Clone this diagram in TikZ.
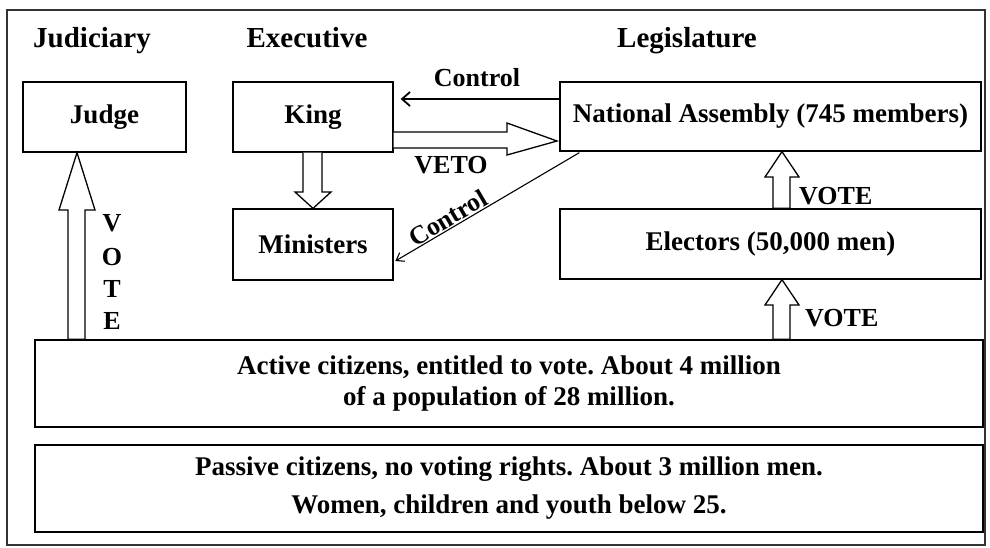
\documentclass[tikz,border=0pt]{standalone}
\usepackage{fontspec}
\setmainfont{Liberation Serif}
\usetikzlibrary{arrows.meta,calc}
\frenchspacing
\begin{document}
\begin{tikzpicture}[x=1pt,y=-1pt,
  box/.style={draw, line width=1.3pt, inner sep=0pt, align=center,
    font=\fontsize{27}{31}\selectfont\bfseries\frenchspacing},
  title/.style={font=\fontsize{29}{32}\selectfont\bfseries, inner sep=0pt, anchor=base},
  lab/.style={font=\fontsize{26}{30}\selectfont\bfseries, inner sep=0pt},
  hollow/.style={draw, line width=1.3pt, fill=white, line join=miter},
]
\useasboundingbox (0,0) rectangle (990,547);
\draw[line width=1.5pt, black!80] (7,10) rectangle (985,545);

% titles
\node[title] (tj) at (92,47) {Judiciary};
\node[title] (te) at (307,47) {Executive};
\node[title] (tl) at (687,47) {Legislature};

% boxes
\node[box, minimum width=163pt, minimum height=70pt] (judge) at (104.5,117) {Judge};
\node[box, minimum width=160pt, minimum height=70pt] (king) at (313,117) {King};
\node[box, minimum width=160pt, minimum height=71pt] (ministers) at (313,244.5) {Ministers};
\node[box, minimum width=421pt, minimum height=69pt] (na) at (770.5,116.5) {National Assembly (745 members)};
\node[box, minimum width=421pt, minimum height=70pt] (electors) at (770.5,244) {Electors (50,000 men)};
\node[box, minimum width=948pt, minimum height=87pt] (active) at (509,383.5)
  {Active citizens, entitled to vote. About 4 million\\of a population of 28 million.};
\node[box, minimum width=948pt, minimum height=87pt] (passive) at (509,488.5)
  {Passive citizens, no voting rights. About 3 million men.\\[7pt]Women, children and youth below 25.};

% Judge vote arrow
\draw[hollow] (77,0 |- judge.south) -- (95,210) -- (85,210) -- (85,0 |- active.north)
  -- (68,0 |- active.north) -- (68,210) -- (59,210) -- cycle;
\node[lab] (v1) at (112,223) {V};
\node[lab] (v2) at (112,257) {O};
\node[lab] (v3) at (112,289) {T};
\node[lab] (v4) at (112,321) {E};

% King -> Ministers
\draw[hollow] (303,0 |- king.south) -- (303,192) -- (295,192) -- (ministers.north)
  -- (331,192) -- (322,192) -- (322,0 |- king.south);

% VETO arrow
\draw[hollow] (king.east |- 0,132) -- (507,132) -- (507,123) -- (557,141)
  -- (507,155) -- (507,148) -- (king.east |- 0,148);
\node[lab] (veto) at (451,165) {VETO};

% Control arrow (NA -> King)
\draw[line width=1.8pt, -{Straight Barb[length=8pt,width=14pt]}, shorten >=7pt]
  (na.west |- 0,99) -- (king.east |- 0,99);
\node[lab] (ctl1) at (477,78) {Control};

% Control diagonal (NA -> Ministers)
\draw[line width=1.1pt, -{Straight Barb[length=7pt,width=10pt]}, shorten >=2pt]
  ($(na.south west)+(20,1)$) -- (ministers.east |- 0,262)
  node[lab, pos=0.68, sloped, above=1pt] (ctl2) {Control};

% Electors -> NA
\draw[hollow] (782,0 |- na.south) -- (799,177) -- (790,177) -- (790,0 |- electors.north)
  -- (773,0 |- electors.north) -- (773,177) -- (765,177) -- cycle;
\node[lab, anchor=west] (vote1) at (799,196) {VOTE};

% Active -> Electors
\draw[hollow] (782,0 |- electors.south) -- (799,305) -- (790,305) -- (790,0 |- active.north)
  -- (773,0 |- active.north) -- (773,305) -- (765,305) -- cycle;
\node[lab, anchor=west] (vote2) at (805,318) {VOTE};
\end{tikzpicture}
\end{document}
